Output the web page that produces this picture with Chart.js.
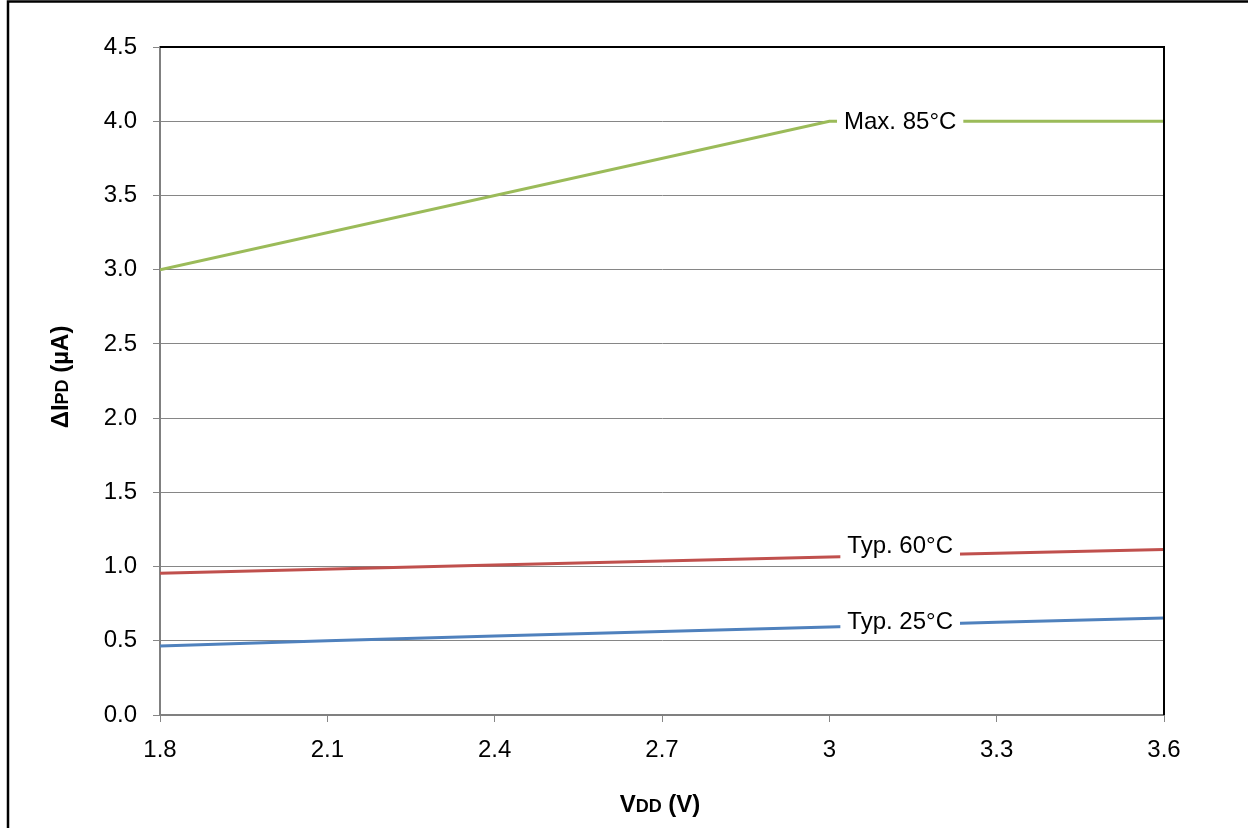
<!DOCTYPE html>
<html>
<head>
<title>Delta IPD vs VDD</title>
<script src="https://cdn.jsdelivr.net/npm/chart.js"></script>
<style>
  html, body { margin: 0; padding: 0; background: #fff; }
  #wrap { width: 1248px; height: 828px; }
</style>
</head>
<body>
<div id="wrap"><canvas id="myChart"></canvas></div>
<script>
// data
const vddMax85 = [1.8, 3.0, 3.6];
const ipdMax85 = [3.0, 4.0, 4.0];
const vddTyp60 = [1.8, 2.4, 3.0, 3.6];
const ipdTyp60 = [0.955, 1.01, 1.065, 1.115];
const vddTyp25 = [1.8, 2.1, 2.4, 2.7, 3.0, 3.3, 3.6];
const ipdTyp25 = [0.465, 0.50, 0.532, 0.563, 0.593, 0.625, 0.654];
const xTicks = [1.8, 2.1, 2.4, 2.7, 3.0, 3.3, 3.6];
const xTickLabels = ['1.8', '2.1', '2.4', '2.7', '3', '3.3', '3.6'];
const yTicks = [0, 0.5, 1.0, 1.5, 2.0, 2.5, 3.0, 3.5, 4.0, 4.5];

// inline series labels: [text, x value, y value]
const seriesLabels = [
  ['Max. 85°C', 3.127, 4.0],
  ['Typ. 60°C', 3.127, 1.14],
  ['Typ. 25°C', 3.127, 0.63]
];

const FONT = '"Liberation Sans", Arial, sans-serif';

function pts(xs, ys) {
  return xs.map((x, i) => ({ x: x, y: ys[i] }));
}

const framePlugin = {
  id: 'frame',
  beforeDraw(chart) {
    const c = chart.ctx;
    c.save();
    c.fillStyle = '#fff';
    c.fillRect(0, 0, chart.width, chart.height);
    c.strokeStyle = '#000';
    c.lineWidth = 2.5;
    c.beginPath();
    c.moveTo(8, chart.height + 5);
    c.lineTo(8, 1.5);
    c.lineTo(chart.width + 5, 1.5);
    c.stroke();
    c.restore();
  },
  afterDraw(chart) {
    const a = chart.chartArea;
    const c = chart.ctx;
    c.save();
    // top and right border of the plot
    c.strokeStyle = '#000';
    c.lineWidth = 2;
    c.beginPath();
    c.moveTo(a.left, a.top);
    c.lineTo(a.right, a.top);
    c.lineTo(a.right, a.bottom);
    c.stroke();

    // axis titles with small subscripts
    function mixed(parts, cx, cy) {
      let w = 0;
      parts.forEach(p => { c.font = 'bold ' + p[1] + 'px ' + FONT; w += c.measureText(p[0]).width; });
      let x = cx - w / 2;
      c.textBaseline = 'alphabetic';
      c.textAlign = 'left';
      parts.forEach(p => {
        c.font = 'bold ' + p[1] + 'px ' + FONT;
        c.fillText(p[0], x, cy);
        x += c.measureText(p[0]).width;
      });
    }
    c.fillStyle = '#000';
    mixed([['V', 24], ['DD', 18], [' (V)', 24]], 660, 812);
    c.translate(68, 377);
    c.rotate(-Math.PI / 2);
    mixed([['ΔI', 24], ['PD', 18], [' (µA)', 24]], 0, 0);
    c.restore();
  },
  afterDatasetsDraw(chart) {
    const c = chart.ctx;
    const xs = chart.scales.x, ys = chart.scales.y;
    c.save();
    c.font = '24px ' + FONT;
    c.textAlign = 'center';
    c.textBaseline = 'middle';
    seriesLabels.forEach(l => {
      const px = xs.getPixelForValue(l[1]);
      const py = ys.getPixelForValue(l[2]);
      const w = c.measureText(l[0]).width;
      c.fillStyle = '#fff';
      c.fillRect(px - w / 2 - 7, py - 14, w + 14, 28);
      c.fillStyle = '#000';
      c.fillText(l[0], px, py + 1);
    });
    c.restore();
  }
};

const ctx = document.getElementById('myChart').getContext('2d');
const myChart = new Chart(ctx, {
  type: 'scatter',
  data: {
    datasets: [
      { label: 'Max. 85°C', data: pts(vddMax85, ipdMax85), borderColor: '#9BBB59' },
      { label: 'Typ. 60°C', data: pts(vddTyp60, ipdTyp60), borderColor: '#C0504D' },
      { label: 'Typ. 25°C', data: pts(vddTyp25, ipdTyp25), borderColor: '#4F81BD' }
    ].map(d => Object.assign(d, {
      showLine: true, borderWidth: 3, pointRadius: 0, fill: false, tension: 0
    }))
  },
  options: {
    responsive: true,
    maintainAspectRatio: false,
    animation: false,
    layout: { padding: { left: 0, top: 47, right: 84, bottom: 0 } },
    plugins: { legend: { display: false }, tooltip: { enabled: false } },
    scales: {
      x: {
        type: 'linear',
        min: 1.8,
        max: 3.6,
        afterBuildTicks(s) { s.ticks = xTicks.map(v => ({ value: v })); },
        afterFit(s) { s.height = 113; },
        ticks: {
          color: '#000',
          font: { family: FONT, size: 24 },
          padding: 14,
          maxRotation: 0,
          callback: (v, i) => xTickLabels[i]
        },
        grid: { drawOnChartArea: false, color: '#868686', tickLength: 7 },
        border: { color: '#808080', width: 2 }
      },
      y: {
        min: 0,
        max: 4.5,
        afterBuildTicks(s) { s.ticks = yTicks.map(v => ({ value: v })); },
        afterFit(s) { s.width = 160; },
        ticks: {
          color: '#000',
          font: { family: FONT, size: 24 },
          padding: 16,
          callback: v => v.toFixed(1)
        },
        grid: { color: '#868686', lineWidth: 1, tickLength: 7 },
        border: { color: '#808080', width: 2 }
      }
    }
  },
  plugins: [framePlugin]
});
</script>
</body>
</html>
